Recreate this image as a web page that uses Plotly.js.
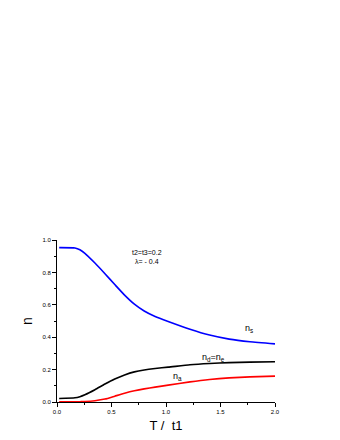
<!DOCTYPE html>
<html>
<head>
<meta charset="utf-8">
<script src="https://cdn.plot.ly/plotly-3.0.1.min.js"></script>
<style>html,body{margin:0;padding:0;background:#fff;}#chart{width:340px;height:440px;}</style>
</head>
<body>
<div id="chart"></div>
<script>
// temperature axis T / t1
const T = [0.02, 0.165, 0.21, 0.256, 0.348, 0.44, 0.53, 0.62, 0.71, 0.80, 0.90, 1.02, 1.22, 1.40, 1.58, 1.77, 2.0];

// occupation numbers
const nS  = [0.953, 0.951, 0.940, 0.918, 0.858, 0.792, 0.725, 0.660, 0.604, 0.562, 0.528, 0.497, 0.449, 0.413, 0.388, 0.372, 0.359];
const nDE = [0.022, 0.026, 0.033, 0.045, 0.076, 0.111, 0.142, 0.167, 0.186, 0.198, 0.207, 0.215, 0.230, 0.238, 0.243, 0.246, 0.248];
const nA  = [0.001, 0.001, 0.002, 0.003, 0.008, 0.018, 0.036, 0.054, 0.069, 0.081, 0.092, 0.104, 0.124, 0.139, 0.149, 0.155, 0.160];

const FONT = 'Arial, "Liberation Sans", sans-serif';

const line = (y, color) => ({
    x: T, y, type: 'scatter', mode: 'lines',
    line: { color, width: 1.6, shape: 'spline', smoothing: 0.5 },
    hoverinfo: 'skip',
});

const traces = [line(nS, '#0000ff'), line(nDE, '#000000'), line(nA, '#ff0000')];

const axisBase = {
    showgrid: false, zeroline: false, showline: true, linecolor: '#000', linewidth: 1,
    ticks: 'outside', ticklen: 4, tickcolor: '#000', tickwidth: 1,
    tickfont: { family: FONT, size: 6, color: '#000' },
    tickformat: '.1f',
};

const layout = {
    width: 340, height: 440,
    paper_bgcolor: '#fff', plot_bgcolor: '#fff',
    margin: { l: 57, r: 65, t: 240, b: 38 },
    showlegend: false,
    xaxis: {
        ...axisBase, range: [0, 2], dtick: 0.5,
        minor: { dtick: 0.25, ticks: 'outside', ticklen: 2, tickcolor: '#000' },
        title: { text: 'T /  t1', font: { family: FONT, size: 13, color: '#000' }, standoff: 6 },
    },
    yaxis: {
        ...axisBase, range: [0, 1], dtick: 0.2,
        minor: { dtick: 0.1, ticks: 'outside', ticklen: 2, tickcolor: '#000' },
        title: { text: 'n', font: { family: FONT, size: 14, color: '#000' }, standoff: 6 },
    },
    annotations: [
        { text: 't2=t3=0.2', x: 0.83, y: 0.92, xref: 'x', yref: 'y', showarrow: false, font: { family: FONT, size: 7, color: '#000' } },
        { text: 'λ= - 0.4', x: 0.83, y: 0.865, xref: 'x', yref: 'y', showarrow: false, font: { family: FONT, size: 7, color: '#000' } },
        { text: 'n<sub>s</sub>', x: 1.76, y: 0.455, xref: 'x', yref: 'y', showarrow: false, font: { family: FONT, size: 9, color: '#000' } },
        { text: 'n<sub>d</sub>=n<sub>e</sub>', x: 1.44, y: 0.275, xref: 'x', yref: 'y', showarrow: false, font: { family: FONT, size: 9, color: '#000' } },
        { text: 'n<sub>a</sub>', x: 1.11, y: 0.155, xref: 'x', yref: 'y', showarrow: false, font: { family: FONT, size: 9, color: '#000' } },
    ],
};

Plotly.newPlot('chart', traces, layout, { displayModeBar: false, staticPlot: true });
</script>
</body>
</html>
